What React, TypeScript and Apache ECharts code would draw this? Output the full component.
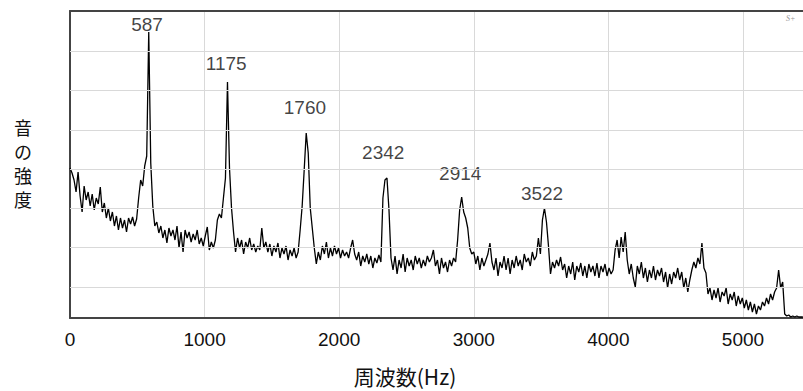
import React, { useEffect, useRef } from "react";
import * as echarts from "echarts";

// Frequency step of the spectrum samples (Hz)
const STEP_HZ = 15;

// Sound intensity (arbitrary units), one value every 15 Hz from 0 Hz
const intensity: number[] = [
  150, 145, 138, 126, 146, 122, 106, 132, 118, 126, 112, 124, 108, 120, 114, 131, 106, 115, 100, 110,
  97, 106, 92, 102, 88, 100, 90, 98, 86, 100, 94, 101, 92, 99, 120, 138, 132, 152, 162, 286,
  155, 112, 92, 96, 85, 92, 80, 88, 75, 90, 82, 88, 78, 92, 70, 86, 66, 88, 80, 86,
  76, 84, 78, 88, 74, 80, 72, 82, 91, 68, 76, 70, 78, 98, 104, 100, 120, 140, 236, 150,
  110, 86, 66, 80, 70, 78, 64, 76, 70, 80, 68, 74, 66, 72, 68, 90, 70, 76, 66, 74,
  62, 72, 66, 75, 60, 70, 64, 72, 58, 68, 62, 70, 60, 66, 88, 112, 148, 185, 165, 110,
  90, 70, 54, 66, 58, 72, 64, 76, 60, 70, 62, 72, 64, 70, 60, 68, 62, 66, 60, 70,
  78, 64, 58, 66, 52, 62, 56, 64, 54, 62, 50, 60, 55, 63, 56, 120, 138, 140, 108, 60,
  48, 62, 44, 58, 50, 64, 46, 60, 52, 58, 48, 62, 54, 60, 50, 58, 52, 62, 56, 60,
  68, 52, 58, 44, 60, 50, 56, 46, 58, 52, 60, 56, 78, 108, 121, 106, 100, 90, 70, 64,
  66, 54, 62, 48, 60, 52, 58, 64, 75, 56, 48, 60, 42, 56, 50, 62, 48, 60, 44, 58,
  50, 62, 52, 58, 48, 64, 56, 60, 52, 66, 58, 62, 80, 64, 98, 110, 96, 72, 44, 56,
  50, 58, 52, 61, 48, 54, 40, 52, 44, 56, 38, 52, 46, 55, 42, 52, 40, 54, 46, 52,
  42, 55, 40, 52, 46, 54, 42, 50, 44, 48, 68, 78, 60, 81, 66, 86, 58, 44, 54, 40,
  31, 52, 44, 56, 40, 50, 36, 48, 40, 52, 38, 48, 42, 50, 36, 46, 30, 44, 34, 46,
  40, 50, 38, 46, 30, 40, 26, 38, 48, 56, 50, 60, 54, 75, 50, 45, 24, 30, 18, 28,
  20, 30, 16, 26, 22, 30, 14, 24, 18, 26, 12, 22, 14, 20, 10, 18, 8, 16, 6, 14,
  4, 12, 8, 16, 12, 20, 14, 24, 18, 26, 30, 48, 30, 36, 4, 2, 3, 1, 2, 1,
  2, 1, 1, 1,
];

// Peak annotations: frequency (Hz) and height of the label (same units as intensity)
const peakFreqs: number[] = [587, 1175, 1760, 2342, 2914, 3522];
const peakLabelHeights: number[] = [294, 255, 211, 166, 145, 125];

// Horizontal grid-line levels
const gridLevels: number[] = [31, 70.3, 109.6, 148.9, 188.2, 227.5, 266.8];

const xTicks = { min: 0, max: 5446, interval: 1000 };
const yRange = { min: 0, max: 307 };

const xName = "周波数(Hz)";
const yNameChars: string[] = ["音", "の", "強", "度"];

export default function App() {
  const ref = useRef<HTMLDivElement>(null);

  useEffect(() => {
    if (!ref.current) return;
    const chart = echarts.init(ref.current, null, { renderer: "svg" });

    const spectrum = intensity.map((v, i) => [i * STEP_HZ, v]);
    const peaks = peakFreqs.map((f, i) => [f, peakLabelHeights[i]]);
    const numFont = "'Liberation Sans', Arial, sans-serif";
    const cjkFont = "'Noto Sans CJK JP', 'Noto Sans', sans-serif";

    chart.setOption({
      animation: false,
      backgroundColor: "#ffffff",
      grid: { left: 70, right: 0, top: 11, bottom: 73 },
      xAxis: [
        {
          type: "value",
          min: xTicks.min,
          max: xTicks.max,
          interval: xTicks.interval,
          axisLine: { show: true, lineStyle: { color: "#444", width: 2 } },
          axisTick: { show: false },
          axisLabel: {
            color: "#111",
            fontSize: 19,
            fontFamily: numFont,
            margin: 12,
            showMaxLabel: false,
            formatter: (v: number) => String(v),
          },
          splitLine: { show: true, lineStyle: { color: "#d9d9d9", width: 1 } },
        },
        {
          type: "value",
          position: "top",
          min: xTicks.min,
          max: xTicks.max,
          interval: xTicks.interval,
          axisLine: { show: true, lineStyle: { color: "#444", width: 2 } },
          axisTick: { show: false },
          axisLabel: { show: false },
          splitLine: { show: false },
        },
      ],
      yAxis: {
        type: "value",
        min: yRange.min,
        max: yRange.max,
        axisLine: { show: true, lineStyle: { color: "#444", width: 2 } },
        axisTick: { show: false },
        axisLabel: { show: false },
        splitLine: { show: false },
      },
      series: [
        {
          type: "line",
          z: 1,
          data: [[0, 0]],
          showSymbol: false,
          symbol: "none",
          lineStyle: { opacity: 0 },
          silent: true,
          markLine: {
            silent: true,
            symbol: "none",
            label: { show: false },
            lineStyle: { color: "#d9d9d9", width: 1, type: "solid" },
            data: gridLevels.map((v) => ({ yAxis: v })),
          },
        },
        {
          type: "line",
          z: 3,
          data: spectrum,
          showSymbol: false,
          symbol: "none",
          lineStyle: { color: "#000", width: 1.3 },
        },
        {
          type: "scatter",
          z: 4,
          data: peaks,
          symbolSize: 0,
          label: {
            show: true,
            position: "inside",
            offset: [-2, 0],
            formatter: (p: any) => String(p.value[0]),
            color: "#111",
            fontSize: 19,
            fontFamily: numFont,
          },
        },
      ],
      graphic: [
        {
          type: "text",
          x: 405,
          y: 376,
          style: {
            text: xName,
            fontSize: 21,
            fontFamily: cjkFont,
            fill: "#111",
            align: "center",
            verticalAlign: "middle",
          },
        },
        ...yNameChars.map((ch, i) => ({
          type: "text",
          x: 23,
          y: 127 + i * 24,
          style: {
            text: ch,
            fontSize: 18,
            lineHeight: 18,
            fontFamily: cjkFont,
            fill: "#111",
            align: "center",
            verticalAlign: "middle",
          },
        })),
        {
          type: "text",
          x: 786,
          y: 14,
          style: { text: "S+", fontSize: 8, fontStyle: "italic", fontFamily: "serif", fill: "#999" },
        },
      ],
    });

    return () => chart.dispose();
  }, []);

  return (
    <div
      ref={ref}
      style={{ position: "absolute", left: 0, top: 0, width: 803, height: 391 }}
    />
  );
}
